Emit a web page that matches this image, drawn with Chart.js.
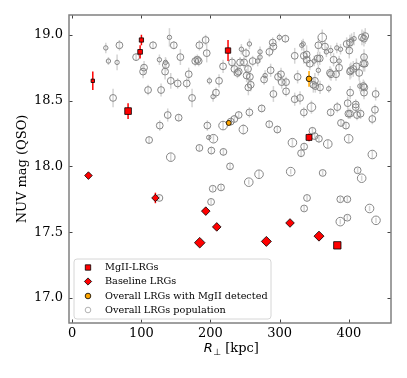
<!DOCTYPE html>
<html>
<head>
<meta charset="utf-8">
<script src="https://cdn.jsdelivr.net/npm/chart.js@4/dist/chart.umd.min.js"></script>
<style>
  body { margin: 0; background: #fff; }
  #c { display: block; }
</style>
</head>
<body>
<canvas id="c" width="407" height="378"></canvas>
<script>
// Axis ticks
const xTicks = [0, 100, 200, 300, 400];
const yTicks = [17.0, 17.5, 18.0, 18.5, 19.0];

// MgII-LRGs (red squares)
const mgX = [29.9, 80.9, 98.3, 100.2, 225.4, 342.5, 383.4];
const mgY = [18.65, 18.42, 18.87, 18.96, 18.88, 18.22, 17.40];
const mgErr = [0.07, 0.06, 0.05, 0.04, 0.08, 0.03, 0];

// Baseline LRGs (red diamonds)
const blX = [23.6, 120.4, 184.5, 193.2, 209.1, 280.8, 315.0, 356.9];
const blY = [17.93, 17.76, 17.42, 17.66, 17.54, 17.43, 17.57, 17.47];
const blErr = [0, 0.04, 0, 0, 0, 0, 0, 0];

// Overall LRGs with MgII detected (orange)
const detX = [226.4, 342.5];
const detY = [18.33, 18.665];
const detErr = [0.02, 0.06];

// Overall LRGs population (open grey circles)
const popX = [
  48.7, 68.4, 52.5, 65, 92.5, 117, 140.7, 147, 126.2, 135,
  135.5, 102.6, 104, 134.4, 156.5, 178, 181, 183, 184, 193,
  194.6, 142.6, 152.6, 165.7, 168.6, 109.8, 128.6, 59.2, 173.4, 198.5,
  203.8, 208, 212.4, 218.2, 231.2, 234.6, 239, 240.8, 242.8, 244.7,
  248.6, 251.4, 256.3, 254.3, 252.3, 254.8, 258.2, 257, 261, 268.3,
  271.7, 271.7, 279, 277.5, 285.2, 290, 291, 287, 291, 297.7,
  299.6, 302, 303, 308.3, 309.3, 309.3, 321.8, 326, 321.8, 329.5,
  332, 334, 335, 339, 339, 343.7, 349.9, 351, 348.7, 351.6,
  358.4, 355, 358, 356, 361.6, 356, 365.6, 367.6, 373.8, 372.8,
  374.3, 371, 378, 382.7, 388, 386, 386, 381.5, 396.9, 401.7,
  400.7, 404, 401.7, 403, 406.4, 411, 415, 407.6, 419, 421.9,
  423.8, 421, 423, 422, 416, 421, 422.4, 402, 422, 438.8,
  398.4, 410, 410, 383.4, 399.4, 401.7, 411.8, 417, 437.8, 434,
  373.8, 346, 335, 388.7, 395.9, 347.4, 356.8, 350.6, 399.8, 369.6,
  318.5, 335.4, 331, 434, 412.8, 418.6, 362.2, 316, 296.7, 285,
  274, 256.3, 240.8, 234.6, 229.3, 218.2, 247.6, 195.5, 197.5, 204.3,
  201.3, 218.7, 184, 126.7, 138.2, 154, 111.3, 142.6, 228.3, 270.2,
  255.4, 215.3, 203.3, 200.9, 126.2, 339.6, 335.4, 387.7, 397.9, 430,
  387.7, 397.9, 439.3
];
const popY = [
  18.90, 18.92, 18.80, 18.79, 18.83, 18.92, 18.98, 18.92, 18.81, 18.79,
  18.77, 18.72, 18.75, 18.72, 18.83, 18.80, 18.81, 18.80, 18.92, 18.96,
  18.86, 18.65, 18.63, 18.63, 18.70, 18.58, 18.58, 18.52, 18.52, 18.65,
  18.53, 18.56, 18.65, 18.76, 18.79, 18.74, 18.71, 18.72, 18.79, 18.89,
  18.79, 18.86, 18.93, 18.74, 18.69, 18.60, 18.62, 18.68, 18.80, 18.80,
  18.87, 18.83, 18.69, 18.66, 18.87, 18.94, 18.91, 18.73, 18.55, 18.68,
  18.98, 18.70, 18.64, 18.97, 18.64, 18.57, 18.84, 18.68, 18.51, 18.52,
  18.92, 18.93, 18.84, 18.85, 18.81, 18.78, 18.80, 18.65, 18.62, 18.61,
  18.60, 18.82, 18.82, 18.73, 18.98, 18.92, 18.91, 18.87, 18.88, 18.71,
  18.70, 18.59, 18.81, 18.90, 18.89, 18.80, 18.75, 18.70, 18.93, 18.94,
  18.88, 18.96, 18.72, 18.73, 18.74, 18.76, 18.71, 18.97, 18.98, 18.97,
  18.99, 18.78, 18.78, 18.83, 18.61, 18.61, 18.60, 18.56, 18.56, 18.55,
  18.48, 18.47, 18.45, 18.45, 18.40, 18.40, 18.39, 18.40, 18.43, 18.36,
  18.41, 18.45, 18.41, 18.33, 18.31, 18.27, 18.21, 18.23, 18.21, 18.17,
  18.18, 18.15, 18.10, 18.09, 17.97, 17.91, 17.95, 17.96, 18.28, 18.32,
  18.44, 18.41, 18.39, 18.36, 18.34, 18.31, 18.28, 18.31, 18.22, 18.21,
  18.12, 18.11, 18.14, 18.31, 18.39, 18.37, 18.20, 18.07, 18.00, 17.94,
  17.88, 17.84, 17.83, 17.73, 17.76, 17.76, 17.68, 17.75, 17.75, 17.68,
  17.58, 17.61, 17.59
];
const popErr = [
  .04, .04, .03, .06, .03, .03, .07, .03, .04, .04,
  .05, .05, .05, .06, .06, .04, .04, .04, .04, .04,
  .07, .06, .04, .04, .05, .04, .05, .07, .07, .03,
  .04, .04, .05, .05, .04, .05, .04, .04, .04, .04,
  .04, .04, .04, .04, .05, .06, .05, .04, .04, .04,
  .04, .04, .04, .04, .04, .04, .04, .05, .06, .04,
  .03, .05, .05, .03, .04, .04, .06, .05, .05, .05,
  .04, .04, .06, .07, .05, .05, .04, .06, .06, .05,
  .05, .05, .05, .04, .06, .05, .05, .04, .04, .05,
  .05, .03, .05, .04, .04, .04, .05, .05, .05, .06,
  .06, .05, .06, .06, .06, .06, .06, .05, .06, .06,
  .06, .06, .06, .06, .04, .05, .05, .05, .05, .05,
  .05, .04, .04, .04, .04, .04, .04, .04, .04, .04,
  .03, .05, .04, .03, .03, .03, .03, .03, .03, .03,
  .03, .03, .03, .03, .02, .02, .02, .02, .03, .03,
  .03, .04, .03, .03, .03, .03, .04, .04, .02, .03,
  .03, .03, .03, .04, .05, .03, .03, .03, .02, .03,
  .02, .02, .02, .02, .02, .02, .02, .02, .02, .02,
  .02, .02, .02
];
// marker size class of each population point (1 small .. 3 large)
const popSizeClass = [
  1, 2, 1, 1, 2, 2, 1, 2, 1, 1,
  2, 2, 2, 2, 2, 2, 2, 2, 2, 2,
  2, 2, 2, 2, 2, 2, 2, 2, 2, 1,
  1, 2, 2, 2, 2, 2, 2, 2, 2, 1,
  2, 2, 1, 2, 2, 2, 2, 2, 2, 1,
  1, 1, 1, 2, 2, 2, 2, 2, 2, 2,
  1, 2, 2, 2, 2, 2, 2, 2, 2, 2,
  1, 1, 2, 2, 2, 2, 1, 2, 2, 2,
  2, 2, 2, 1, 3, 2, 2, 1, 1, 2,
  2, 1, 2, 1, 1, 1, 2, 2, 2, 2,
  2, 1, 2, 2, 2, 2, 2, 1, 2, 2,
  2, 2, 2, 2, 1, 2, 2, 2, 2, 2,
  2, 2, 2, 2, 2, 2, 2, 2, 2, 2,
  2, 3, 2, 2, 2, 2, 2, 2, 3, 3,
  3, 2, 2, 3, 2, 3, 2, 3, 2, 2,
  2, 2, 2, 2, 2, 3, 3, 2, 1, 3,
  2, 2, 2, 2, 2, 2, 2, 3, 2, 3,
  3, 2, 2, 2, 2, 2, 2, 2, 2, 3,
  3, 2, 3
];

// marker radii (px)
const mgRadius = [2.4, 4.7, 3.3, 3.0, 3.8, 4.2, 5.2];
const blRadius = [3.8, 3.7, 5.3, 4.3, 4.3, 5.0, 4.3, 5.0];
const detRadius = [2.5, 2.8];
const popRadius = popSizeClass.map(s => [0, 2.2, 3.4, 4.3][s]);

const toPoints = (xs, ys) => xs.map((x, i) => ({ x: x, y: ys[i] }));

const SERIF = '"DejaVu Serif", "Liberation Serif", serif';

// error bars drawn under each dataset, then frame / ticks / titles / legend on top
const decorations = {
  id: 'decorations',
  beforeDatasetDraw(chart, args) {
    const ds = chart.data.datasets[args.index];
    if (!ds.err) return;
    const ctx = chart.ctx, xs = chart.scales.x, ys = chart.scales.y;
    ctx.save();
    ctx.strokeStyle = ds.errColor;
    ctx.lineWidth = 1.5;
    ds.data.forEach((p, i) => {
      const e = ds.err[i];
      if (!e) return;
      const px = xs.getPixelForValue(p.x);
      ctx.beginPath();
      ctx.moveTo(px, ys.getPixelForValue(p.y - e));
      ctx.lineTo(px, ys.getPixelForValue(p.y + e));
      ctx.stroke();
    });
    ctx.restore();
  },
  afterDraw(chart) {
    const ctx = chart.ctx, a = chart.chartArea;
    const xs = chart.scales.x, ys = chart.scales.y;
    ctx.save();

    // inward ticks on all sides
    ctx.strokeStyle = '#444';
    ctx.lineWidth = 1;
    const tl = 3.5;
    xTicks.forEach(v => {
      const px = Math.round(xs.getPixelForValue(v)) + 0.5;
      ctx.beginPath();
      ctx.moveTo(px, a.bottom); ctx.lineTo(px, a.bottom - tl);
      ctx.moveTo(px, a.top); ctx.lineTo(px, a.top + tl);
      ctx.stroke();
    });
    yTicks.forEach(v => {
      const py = Math.round(ys.getPixelForValue(v)) + 0.5;
      ctx.beginPath();
      ctx.moveTo(a.left, py); ctx.lineTo(a.left + tl, py);
      ctx.moveTo(a.right, py); ctx.lineTo(a.right - tl, py);
      ctx.stroke();
    });

    // frame
    ctx.strokeStyle = '#808080';
    ctx.lineWidth = 1.5;
    ctx.strokeRect(a.left, a.top, a.right - a.left, a.bottom - a.top);

    // y title
    ctx.fillStyle = '#000';
    ctx.font = '13px ' + SERIF;
    ctx.textAlign = 'center';
    ctx.textBaseline = 'middle';
    ctx.save();
    ctx.translate(23, (a.top + a.bottom) / 2);
    ctx.rotate(-Math.PI / 2);
    ctx.fillText('NUV mag (QSO)', 0, 0);
    ctx.restore();

    // x title: italic R, subscript ⊥, then [kpc]
    const base = 351.5;
    ctx.textAlign = 'left';
    ctx.textBaseline = 'alphabetic';
    const rFont = 'italic 13px "DejaVu Sans", sans-serif';
    const subFont = '9px "DejaVu Sans", sans-serif';
    const restFont = '13px ' + SERIF;
    ctx.font = rFont; const wR = ctx.measureText('R').width;
    ctx.font = subFont; const wS = ctx.measureText('\u22A5').width;
    ctx.font = restFont; const wK = ctx.measureText(' [kpc]').width;
    let tx = (a.left + a.right) / 2 - (wR + wS + wK) / 2 + 1;
    ctx.font = rFont; ctx.fillText('R', tx, base); tx += wR + 0.5;
    ctx.font = subFont; ctx.fillText('\u22A5', tx, base + 3); tx += wS;
    ctx.font = restFont; ctx.fillText(' [kpc]', tx, base);

    // legend
    const lx = 74, ly = 259, lw = 197, lh = 60, r = 3;
    ctx.beginPath();
    ctx.moveTo(lx + r, ly);
    ctx.arcTo(lx + lw, ly, lx + lw, ly + lh, r);
    ctx.arcTo(lx + lw, ly + lh, lx, ly + lh, r);
    ctx.arcTo(lx, ly + lh, lx, ly, r);
    ctx.arcTo(lx, ly, lx + lw, ly, r);
    ctx.closePath();
    ctx.fillStyle = 'rgba(255,255,255,0.8)';
    ctx.fill();
    ctx.strokeStyle = '#d6d6d6';
    ctx.lineWidth = 1;
    ctx.stroke();

    const mx = 88, rows = [267.5, 281.5, 296, 310];
    const labels = ['MgII-LRGs', 'Baseline LRGs', 'Overall LRGs with MgII detected', 'Overall LRGs population'];
    // square
    ctx.fillStyle = '#ff0000'; ctx.strokeStyle = '#000'; ctx.lineWidth = 0.8;
    ctx.beginPath(); ctx.rect(mx - 2.7, rows[0] - 2.7, 5.4, 5.4); ctx.fill(); ctx.stroke();
    // diamond
    ctx.beginPath();
    ctx.moveTo(mx - 3.6, rows[1]); ctx.lineTo(mx, rows[1] - 3.6);
    ctx.lineTo(mx + 3.6, rows[1]); ctx.lineTo(mx, rows[1] + 3.6);
    ctx.closePath(); ctx.fill(); ctx.stroke();
    // orange circle
    ctx.fillStyle = '#ffa500';
    ctx.beginPath(); ctx.arc(mx, rows[2], 2.8, 0, Math.PI * 2); ctx.fill(); ctx.stroke();
    // open circle
    ctx.strokeStyle = '#a0a0a0';
    ctx.beginPath(); ctx.arc(mx, rows[3], 2.8, 0, Math.PI * 2); ctx.stroke();

    ctx.fillStyle = '#000';
    ctx.font = '9.7px ' + SERIF;
    ctx.textBaseline = 'middle';
    labels.forEach((t, i) => ctx.fillText(t, 105, rows[i]));

    ctx.restore();
  }
};

new Chart(document.getElementById('c'), {
  type: 'scatter',
  data: {
    datasets: [
      {
        label: 'Baseline LRGs',
        data: toPoints(blX, blY),
        err: blErr, errColor: '#ff0000',
        pointStyle: 'rectRot',
        pointRadius: blRadius,
        backgroundColor: '#ff0000',
        borderColor: '#000',
        borderWidth: 0.8
      },
      {
        label: 'MgII-LRGs',
        data: toPoints(mgX, mgY),
        err: mgErr, errColor: '#ff0000',
        pointStyle: 'rect',
        pointRadius: mgRadius,
        backgroundColor: '#ff0000',
        borderColor: '#000',
        borderWidth: 0.8
      },
      {
        label: 'Overall LRGs with MgII detected',
        data: toPoints(detX, detY),
        err: detErr, errColor: '#ffa500',
        pointStyle: 'circle',
        pointRadius: detRadius,
        backgroundColor: '#ffa500',
        borderColor: '#000',
        borderWidth: 0.8
      },
      {
        label: 'Overall LRGs population',
        data: toPoints(popX, popY),
        err: popErr, errColor: '#d4d4d4',
        pointStyle: 'circle',
        pointRadius: popRadius,
        backgroundColor: 'rgba(0,0,0,0)',
        borderColor: '#858585',
        borderWidth: 1
      }
    ]
  },
  options: {
    responsive: false,
    animation: false,
    devicePixelRatio: 1,
    layout: { padding: { left: 0, right: 16, top: 15, bottom: 0 } },
    plugins: { legend: { display: false }, tooltip: { enabled: false } },
    scales: {
      x: {
        type: 'linear',
        min: -4.5, max: 461,
        afterBuildTicks: s => { s.ticks = xTicks.map(v => ({ value: v })); },
        afterFit: s => { s.height = 55; },
        grid: { display: false, drawTicks: false },
        border: { display: false },
        ticks: {
          padding: 3,
          color: '#000',
          font: { family: SERIF, size: 13 },
          callback: v => String(v),
          maxRotation: 0
        }
      },
      y: {
        type: 'linear',
        min: 16.81, max: 19.15,
        afterBuildTicks: s => { s.ticks = yTicks.map(v => ({ value: v })); },
        afterFit: s => { s.width = 69; },
        grid: { display: false, drawTicks: false },
        border: { display: false },
        ticks: {
          padding: 6,
          color: '#000',
          font: { family: SERIF, size: 13 },
          callback: v => v.toFixed(1)
        }
      }
    }
  },
  plugins: [decorations]
});
</script>
</body>
</html>
